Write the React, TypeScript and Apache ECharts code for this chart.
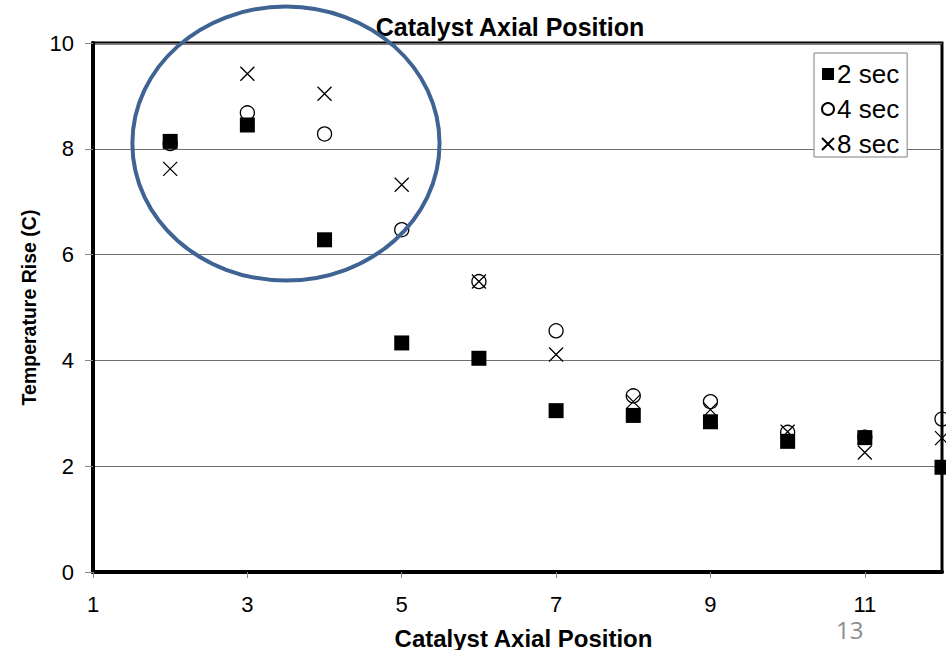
import React, { useEffect, useRef } from "react";
import * as echarts from "echarts";

const positions = [2, 3, 4, 5, 6, 7, 8, 9, 10, 11, 12];
const sec2 = [8.14, 8.45, 6.28, 4.33, 4.04, 3.05, 2.96, 2.84, 2.47, 2.54, 1.98];
const sec4 = [8.1, 8.68, 8.28, 6.47, 5.49, 4.56, 3.33, 3.22, 2.64, 2.55, 2.89];
const sec8 = [7.62, 9.42, 9.04, 7.32, 5.49, 4.11, 3.22, 3.07, 2.65, 2.26, 2.53];
const xTickValues = [1, 3, 5, 7, 9, 11];
const seriesNames = ["2 sec", "4 sec", "8 sec"];
// highlighted region (data coords): center x, center y, half-width, half-height
const highlight = [3.5, 8.1, 1.99, 2.59];

const X_PATH = "path://M0,0L10,10M10,0L0,10";
const FONT = "Liberation Sans, Arial, sans-serif";

const pair = (ys: number[]) => positions.map((x, i) => [x, ys[i]]);

export default function App() {
  const ref = useRef<HTMLDivElement>(null);
  useEffect(() => {
    document.body.style.margin = "0";
    if (!ref.current) return;
    const chart = echarts.init(ref.current, null, { renderer: "svg" });
    chart.setOption({
      animation: false,
      backgroundColor: "#fff",
      textStyle: { fontFamily: FONT },
      title: {
        text: "Catalyst Axial Position",
        left: 510,
        textAlign: "center",
        top: 14,
        padding: 0,
        textStyle: { fontFamily: FONT, fontSize: 25, fontWeight: "bold", color: "#000" },
      },
      grid: {
        left: 93,
        right: 4,
        top: 43,
        bottom: 78,
        show: true,
        borderColor: "#000",
        borderWidth: 3,
        backgroundColor: "transparent",
        outerBoundsMode: "none",
        containLabel: false,
      },
      legend: {
        orient: "vertical",
        left: 814,
        top: 53,
        backgroundColor: "#fff",
        borderColor: "#808080",
        borderWidth: 1,
        borderRadius: 0,
        padding: [8, 8, 0, 7],
        itemGap: 9,
        itemWidth: 12,
        itemHeight: 12,
        textStyle: { fontFamily: FONT, fontSize: 26, color: "#000", padding: [0, 0, 0, -2] },
        data: [
          { name: seriesNames[0], icon: "rect" },
          { name: seriesNames[1], icon: "circle" },
          { name: seriesNames[2], icon: X_PATH },
        ],
      },
      xAxis: {
        type: "value",
        min: 1,
        max: 12,
        name: "Catalyst Axial Position",
        nameLocation: "middle",
        nameGap: 54,
        nameTextStyle: { fontFamily: FONT, fontSize: 24, fontWeight: "bold", color: "#000", padding: [0, 0, 0, 12] },
        axisLine: { show: true, onZero: false, lineStyle: { color: "#000", width: 4 } },
        axisTick: { show: true, length: 6, customValues: xTickValues, lineStyle: { color: "#888" } },
        axisLabel: { customValues: xTickValues, fontFamily: FONT, fontSize: 22, color: "#000", margin: 21 },
        splitLine: { show: false },
      },
      yAxis: {
        type: "value",
        min: 0,
        max: 10,
        interval: 2,
        name: "Temperature Rise (C)",
        nameLocation: "middle",
        nameGap: 53,
        nameTextStyle: { fontFamily: FONT, fontSize: 19.5, fontWeight: "bold", color: "#000" },
        axisLine: { show: true, lineStyle: { color: "#000", width: 4 } },
        axisTick: { show: true, length: 8, lineStyle: { color: "#888" } },
        axisLabel: { fontFamily: FONT, fontSize: 22, color: "#000", margin: 19 },
        splitLine: { show: true, lineStyle: { color: "#707070", width: 1 } },
      },
      series: [
        {
          name: seriesNames[0],
          type: "scatter",
          z: 5,
          symbol: "rect",
          symbolSize: 15,
          itemStyle: { color: "#000", opacity: 1 },
          data: pair(sec2),
        },
        {
          name: seriesNames[1],
          type: "scatter",
          z: 3,
          symbol: "circle",
          symbolSize: 14,
          itemStyle: { color: "rgba(255,255,255,0)", borderColor: "#000", borderWidth: 1.3, opacity: 1 },
          data: pair(sec4),
        },
        {
          name: seriesNames[2],
          type: "scatter",
          z: 4,
          symbol: X_PATH,
          symbolSize: 14,
          itemStyle: { color: "rgba(255,255,255,0)", borderColor: "#000", borderWidth: 1.3, opacity: 1 },
          data: pair(sec8),
        },
      ],
    });

    const c = chart.convertToPixel({ gridIndex: 0 }, [highlight[0], highlight[1]]) as number[];
    const e = chart.convertToPixel({ gridIndex: 0 }, [highlight[0] + highlight[2], highlight[1] + highlight[3]]) as number[];
    chart.setOption({
      graphic: [
        {
          type: "ellipse",
          z: 100,
          shape: { cx: c[0], cy: c[1], rx: Math.abs(e[0] - c[0]), ry: Math.abs(c[1] - e[1]) },
          style: { fill: "none", stroke: "#3f6494", lineWidth: 4 },
        },
        {
          type: "text",
          left: 836,
          top: 617,
          style: { text: "13", fontFamily: "Open Sans, sans-serif", fontSize: 24, fill: "#8c8c8c" },
        },
      ],
    });
    return () => chart.dispose();
  }, []);
  return <div ref={ref} style={{ width: 946, height: 650 }} />;
}
